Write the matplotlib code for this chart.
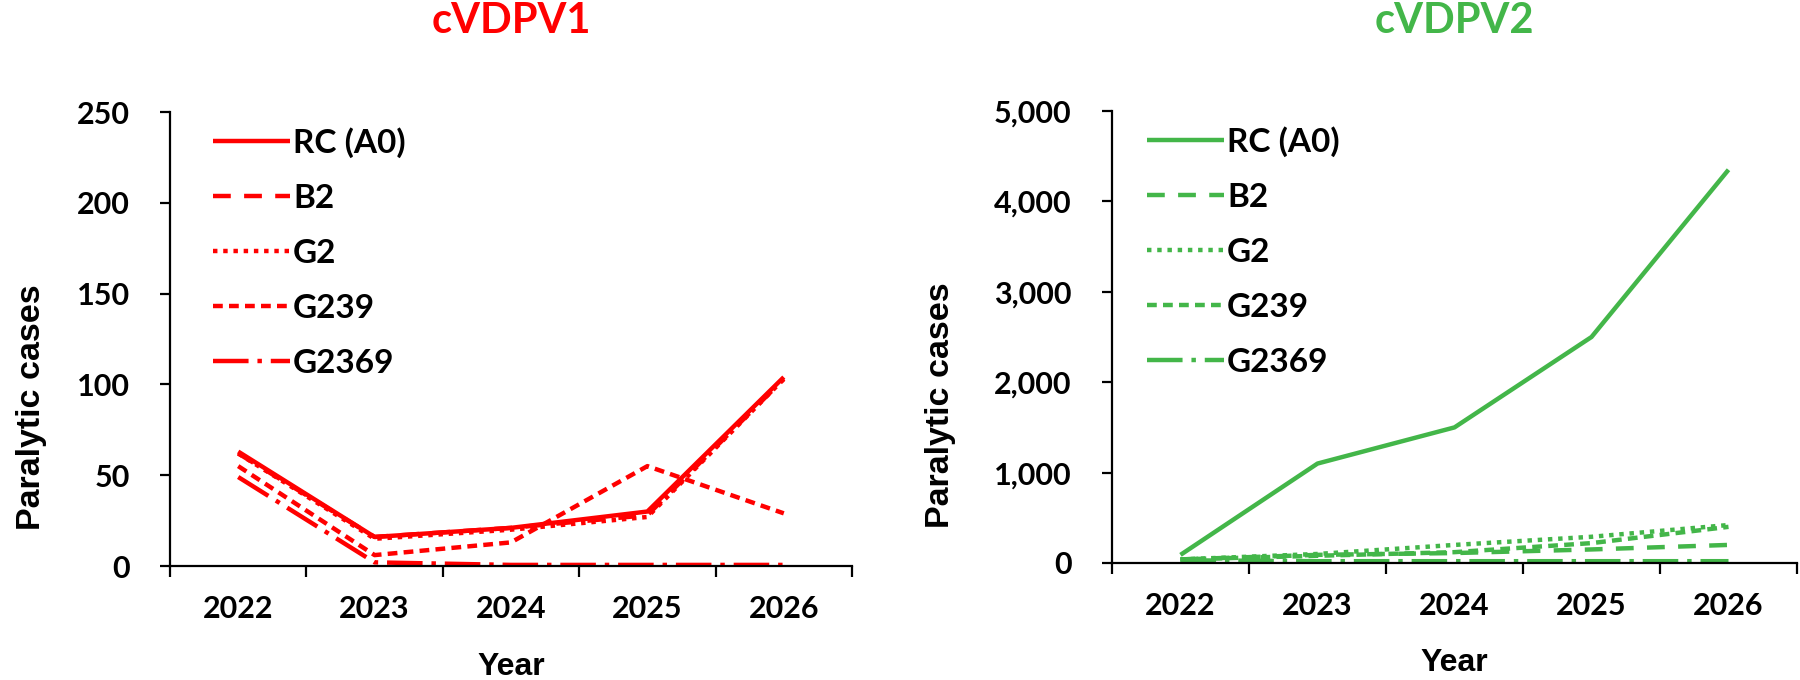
import numpy as np
import matplotlib
matplotlib.use('Agg')
import matplotlib.pyplot as plt
from matplotlib.ticker import FuncFormatter, FixedLocator

years = ['2022', '2023', '2024', '2025', '2026']
names = ['RC (A0)', 'B2', 'G2', 'G239', 'G2369']

# cVDPV1 paralytic cases
v1_rc = [63, 16, 21, 30, 104]
v1_b2 = [62, 16, 21, 28, 103]
v1_g2 = [62, 15, 20, 27, 103]
v1_g239 = [55, 6, 13, 55, 29]
v1_g2369 = [49, 2, 0.6, 0.6, 0.6]

# cVDPV2 paralytic cases
v2_rc = [90, 1100, 1500, 2500, 4350]
v2_b2 = [40, 90, 110, 150, 200]
v2_g2 = [40, 100, 200, 290, 420]
v2_g239 = [40, 80, 120, 220, 400]
v2_g2369 = [30, 20, 20, 20, 20]

styles = ['-', (0, (4, 3)), (0, (1, 1.3)), (0, (2.2, 1.4)), (0, (8, 2, 1, 2))]

tick_font = 'Lato'
label_font = 'Liberation Sans'

fig = plt.figure(figsize=(18, 6.8), dpi=100)
ax1 = fig.add_axes([170/1800, 114/680, 682/1800, 454/680])
ax2 = fig.add_axes([1112/1800, 117/680, 685/1800, 452/680])

def setup(ax, series, color, title, ymax, ystep, fmt, leg_x):
    x = np.arange(len(years))
    handles = []
    for vals, ls, nm in zip(series, styles, names):
        h, = ax.plot(x, vals, color=color, lw=3.2, ls=ls, label=nm,
                     solid_capstyle='butt', dash_capstyle='butt')
        handles.append(h)
    ax.set_xlim(-0.5, len(years) - 0.5)
    ax.set_ylim(0, ymax)
    ax.set_yticks(np.arange(0, ymax + 1, ystep))
    ax.yaxis.set_major_formatter(FuncFormatter(fmt))
    ax.xaxis.set_major_locator(FixedLocator(np.arange(-0.5, len(years), 1.0)))
    ax.xaxis.set_minor_locator(FixedLocator(x))
    ax.set_xticklabels([], minor=False)
    ax.set_xticklabels(years, minor=True)
    ax.tick_params(axis='x', which='major', length=8, width=1.6, direction='out')
    ax.tick_params(axis='x', which='minor', length=0, pad=21)
    ax.tick_params(axis='y', length=7, width=1.6, direction='out', pad=22)
    for lab in ax.get_xticklabels(minor=True) + ax.get_yticklabels():
        lab.set_fontfamily(tick_font)
        lab.set_fontweight('bold')
        lab.set_fontsize(22)
    for s in ['top', 'right']:
        ax.spines[s].set_visible(False)
    for s in ['left', 'bottom']:
        ax.spines[s].set_linewidth(1.6)
    ax.set_ylabel('Paralytic cases', fontsize=24.5, fontweight='bold',
                  family=label_font)
    ax.set_xlabel('Year', fontsize=23, fontweight='bold', family=label_font,
                  va='center')
    ax.xaxis.set_label_coords(0.5, -0.222)
    ax.set_title(title, color=color, fontsize=30, fontweight='bold',
                 family=tick_font, y=1.2, va='center', pad=0)
    ax.legend(handles=handles, loc='upper left', bbox_to_anchor=(leg_x, 0.967),
              frameon=False, borderpad=0, borderaxespad=0, handlelength=2.3,
              handletextpad=0.1, labelspacing=0.78,
              prop={'family': tick_font, 'weight': 'bold', 'size': 24})

setup(ax1, [v1_rc, v1_b2, v1_g2, v1_g239, v1_g2369], '#FF0000', 'cVDPV1',
      250, 50, lambda v, p: '%d' % v, 0.063)
ax1.yaxis.set_label_coords(-0.18, 0.35)
setup(ax2, [v2_rc, v2_b2, v2_g2, v2_g239, v2_g2369], '#43B649', 'cVDPV2',
      5000, 1000, lambda v, p: '{:,}'.format(int(v)), 0.051)
ax2.yaxis.set_label_coords(-0.228, 0.35)

fig.savefig('out.png', dpi=100)
